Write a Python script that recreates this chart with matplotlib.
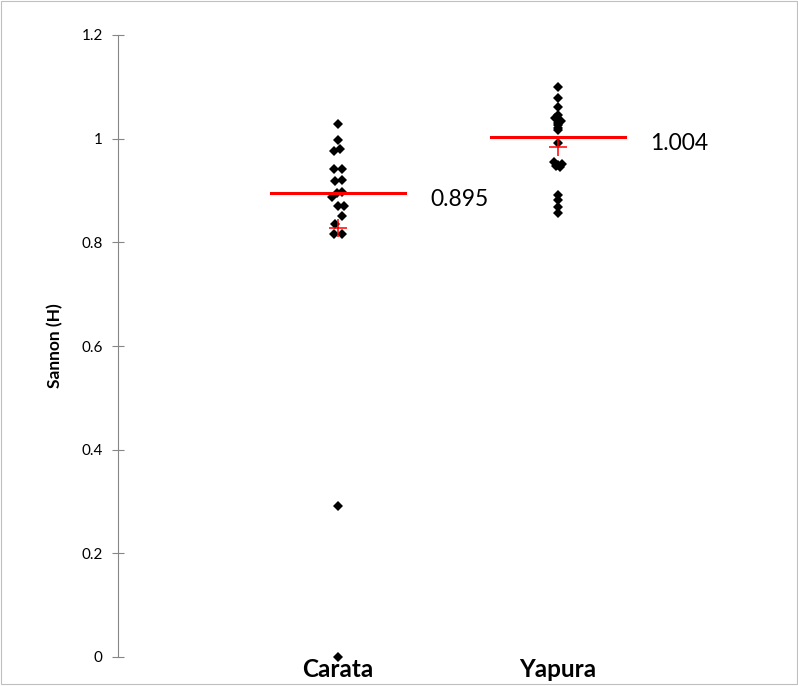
import numpy as np
import matplotlib.pyplot as plt
from matplotlib.patches import Rectangle

plt.rcParams['font.family'] = ['Lato', 'DejaVu Sans']

# Shannon index per sample
categories = ['Carata', 'Yapura']
carata = [1.028, 0.997, 0.981, 0.977, 0.941, 0.941, 0.920, 0.919, 0.898, 0.895,
          0.887, 0.871, 0.870, 0.850, 0.835, 0.816, 0.816, 0.292, 0.0]
yapura = [1.100, 1.078, 1.061, 1.046, 1.040, 1.035, 1.030, 1.026, 1.020, 1.016,
          0.992, 0.955, 0.952, 0.950, 0.948, 0.945, 0.891, 0.882, 0.869, 0.857]
# small horizontal scatter of the diamonds (category units)
carata_jitter = [0, 0, 0.011, -0.018, -0.018, 0.018, 0.016, -0.014, 0.016, -0.005,
                 -0.026, 0.027, 0.0, 0.016, -0.014, -0.016, 0.018, 0, 0]
yapura_jitter = [0, 0, 0, 0, -0.014, 0.014, 0.0, 0, 0, 0,
                 0, -0.018, 0.018, 0.0, -0.009, 0.009, 0, 0, 0, 0]

groups = [carata, yapura]
jitters = [carata_jitter, yapura_jitter]

fig = plt.figure(figsize=(7.98, 6.86), dpi=100)
ax = fig.add_axes([118 / 798, 29 / 686, 660 / 798, 622 / 686])

for i, (vals, jit) in enumerate(zip(groups, jitters)):
    xc = i + 1
    xs = xc + np.array(jit)
    ax.plot(xs, vals, 'D', color='black', ms=4.8, mew=0, clip_on=False, zorder=3)
    med = np.median(vals)
    mean = np.mean(vals)
    ax.plot([xc - 0.305, xc + 0.305], [med, med], color='#FF0000', lw=2.2, zorder=4)
    ax.plot(xc, mean, '+', color='#FF0000', ms=13, mew=1.1, zorder=5)
    ax.text(xc + 0.42, med - 0.013, '%.3f' % med, fontsize=16.5, va='center', ha='left')

ax.set_xlim(0, 3)
ax.set_ylim(0, 1.2)
ax.set_yticks([0, 0.2, 0.4, 0.6, 0.8, 1.0, 1.2])
ax.set_yticklabels(['0', '0.2', '0.4', '0.6', '0.8', '1', '1.2'])
ax.set_xticks([1, 2])
ax.set_xticklabels(categories, fontsize=17.5, fontweight='bold')
ax.tick_params(axis='x', length=0, pad=1)
ax.tick_params(axis='y', direction='inout', length=8, width=0.8, color='#868686',
               labelsize=11, pad=7)

for s in ['top', 'right', 'bottom']:
    ax.spines[s].set_visible(False)
ax.spines['left'].set_color('#868686')
ax.spines['left'].set_linewidth(0.8)

ax.set_ylabel('Sannon (H)', fontsize=12.5, fontweight='bold')
ax.yaxis.set_label_coords(-0.083, 0.5)

fig.patches.append(Rectangle((1 / 798, 2 / 686), 796 / 798, 683 / 686,
                             transform=fig.transFigure, fill=False,
                             edgecolor='#BFBFBF', lw=0.8))

fig.savefig('out.png', dpi=100)
